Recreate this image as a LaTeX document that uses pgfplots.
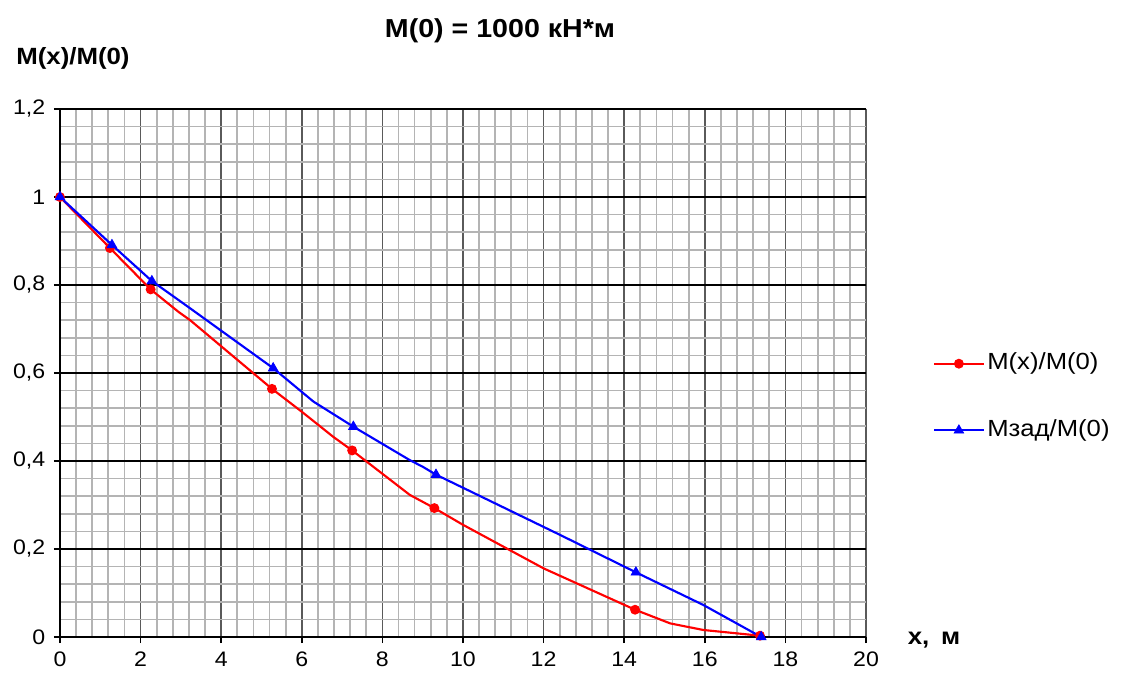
\documentclass[border=0pt]{standalone}
\usepackage{fontspec}
\setmainfont{Liberation Sans}[FakeStretch=1.1]
\usepackage{pgfplots}
\pgfplotsset{compat=1.18}
\definecolor{majx}{HTML}{5A5A5A}
\definecolor{minorg}{HTML}{B4B4B4}

\begin{document}
\begin{tikzpicture}
\begin{axis}[
    scale only axis,
    width=604.5pt, height=396pt,
    xmin=0, xmax=20, ymin=0, ymax=1.2,
    xtick={0,2,4,6,8,10,12,14,16,18,20},
    ytick={0,0.2,0.4,0.6,0.8,1,1.2},
    minor x tick num=4, minor y tick num=4,
    grid=both,
    major x grid style={majx, line width=1.1pt},
    major y grid style={black, line width=0.8pt},
    minor grid style={minorg, line width=1.3pt},
    axis x line*=bottom, axis y line*=left,
    axis line style={line width=1.6pt, -},
    tick align=outside,
    major tick length=4.5pt, minor tick length=0pt,
    tick style={black, line width=1.3pt},
    /pgf/number format/use comma,
    /pgf/number format/assume math mode=true,
    tick label style={font=\fontsize{15.75}{18}\selectfont},
    xticklabel style={yshift=-3pt},
    yticklabel style={xshift=-3pt},
    title={M(0) = 1000 кН*м},
    title style={font=\fontsize{19.5}{22}\selectfont\bfseries,
        at={(rel axis cs:0.546,1.121)}, anchor=base},
    ylabel={M(x)/M(0)},
    every axis y label/.style={font=\fontsize{17.6}{20}\selectfont\bfseries,
        at={(rel axis cs:-0.060,1.085)}, anchor=base west},
    xlabel={x,\enspace м},
    every axis x label/.style={font=\fontsize{17.6}{20}\selectfont\bfseries,
        at={(rel axis cs:1.046,-0.015)}, anchor=base west},
    legend style={at={(rel axis cs:1.083,0.4545)}, anchor=west,
        draw=none, fill=none, inner sep=0pt,
        font=\fontsize{17.5}{20}\selectfont,
        row sep=29pt, legend cell align=left,
        nodes={inner sep=2pt, text height=13pt, text depth=4pt}},
    legend image code/.code={%
        \draw[#1, mark indices={2}] plot coordinates {(0pt,0pt) (18.5pt,0pt) (37pt,0pt)};},
    clip=false,
]
\addplot[red, line width=1.6pt, mark=*, mark size=3.3pt,
    mark options={fill=red, draw=red, line width=0.8pt},
    mark indices={1,2,3,6,9,11,14,17}] coordinates {
    (0,1.0) (1.24,0.884) (2.25,0.79) (2.94,0.739) (3.23,0.72)
    (5.26,0.564) (6.0,0.512) (6.78,0.455) (7.25,0.424) (8.68,0.323)
    (9.29,0.293) (10.0,0.255) (12.0,0.156) (14.27,0.062) (15.14,0.031)
    (15.96,0.016) (17.37,0.003)
};
\addlegendentry{M(x)/M(0)}
\addplot[blue, line width=1.6pt, mark=triangle*, mark size=4.2pt,
    mark options={fill=blue, draw=blue, line width=0.5pt},
    mark indices={1,2,3,6,8,11,13,15}] coordinates {
    (0,1.0) (1.29,0.891) (2.28,0.809) (2.94,0.766) (3.23,0.747)
    (5.29,0.611) (6.29,0.535) (7.28,0.478) (8.68,0.402) (9.0,0.387)
    (9.33,0.369) (12.41,0.232) (14.29,0.147) (15.96,0.073) (17.4,0.0)
};
\addlegendentry{Mзад/M(0)}
\coordinate (bbll) at (rel axis cs:-0.0744,-0.0852);
\coordinate (bbur) at (rel axis cs:1.3238,1.2064);
\end{axis}
\pgfresetboundingbox
\path[use as bounding box] (bbll) rectangle (bbur);
\end{tikzpicture}
\end{document}
